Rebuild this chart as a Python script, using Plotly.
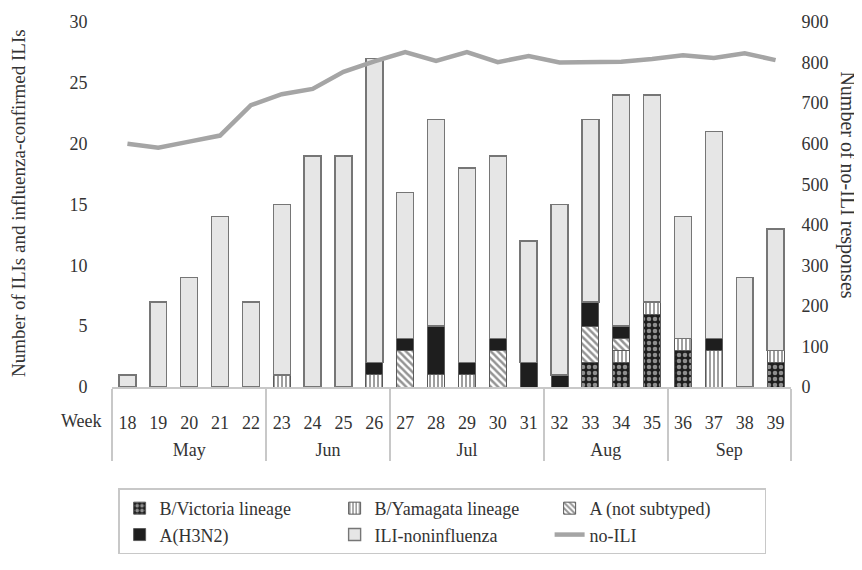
import plotly.graph_objects as go

weeks = ["18", "19", "20", "21", "22", "23", "24", "25", "26", "27", "28",
         "29", "30", "31", "32", "33", "34", "35", "36", "37", "38", "39"]
months = ["May"] * 5 + ["Jun"] * 4 + ["Jul"] * 5 + ["Aug"] * 4 + ["Sep"] * 4

b_victoria = [0, 0, 0, 0, 0, 0, 0, 0, 0, 0, 0, 0, 0, 0, 0, 2, 2, 6, 3, 0, 0, 2]
b_yamagata = [0, 0, 0, 0, 0, 1, 0, 0, 1, 0, 1, 1, 0, 0, 0, 0, 1, 1, 1, 3, 0, 1]
a_not_subtyped = [0, 0, 0, 0, 0, 0, 0, 0, 0, 3, 0, 0, 3, 0, 0, 3, 1, 0, 0, 0, 0, 0]
a_h3n2 = [0, 0, 0, 0, 0, 0, 0, 0, 1, 1, 4, 1, 1, 2, 1, 2, 1, 0, 0, 1, 0, 0]
ili_total = [1, 7, 9, 14, 7, 15, 19, 19, 27, 16, 22, 18, 19, 12, 15, 22, 24, 24, 14, 21, 9, 13]
no_ili = [600, 590, 605, 620, 695, 722, 735, 777, 803, 826, 804, 826, 801, 816,
          800, 801, 802, 809, 818, 811, 823, 806]

ili_noninfluenza = [t - v - y - a - h for t, v, y, a, h in
                    zip(ili_total, b_victoria, b_yamagata, a_not_subtyped, a_h3n2)]


def nz(values):
    return [v if v else None for v in values]


x = [["<br>" + m for m in months], weeks]
FAM = "Liberation Serif"
TXT = "#333333"


def f(size):
    return dict(family=FAM, size=size, color=TXT)


outline = dict(color="#5a5a5a", width=1)

fig = go.Figure()
fig.add_trace(go.Bar(
    x=x, y=nz(b_victoria), name="B/Victoria lineage",
    marker=dict(color="#1e1e1e", line=outline,
                pattern=dict(shape=".", bgcolor="#1e1e1e", fgcolor="#ffffff",
                             size=6, solidity=0.45))))
fig.add_trace(go.Bar(
    x=x, y=nz(b_yamagata), name="B/Yamagata lineage",
    marker=dict(color="#ffffff", line=outline,
                pattern=dict(shape="|", bgcolor="#ffffff", fgcolor="#2a2a2a",
                             size=4, solidity=0.45))))
fig.add_trace(go.Bar(
    x=x, y=nz(a_not_subtyped), name="A (not subtyped)",
    marker=dict(color="#ffffff", line=outline,
                pattern=dict(shape="\\", bgcolor="#ffffff", fgcolor="#2a2a2a",
                             size=5, solidity=0.5))))
fig.add_trace(go.Bar(
    x=x, y=nz(a_h3n2), name="A(H3N2)",
    marker=dict(color="#1e1e1e", line=outline)))
fig.add_trace(go.Bar(
    x=x, y=nz(ili_noninfluenza), name="ILI-noninfluenza",
    marker=dict(color="#e6e6e6", line=dict(color="#767676", width=1.4))))
fig.add_trace(go.Scatter(
    x=x, y=no_ili, name="no-ILI", mode="lines", yaxis="y2",
    line=dict(color="#a5a5a5", width=4.5)))

fig.update_layout(
    width=854, height=562,
    barmode="stack", bargap=0.45,
    plot_bgcolor="white", paper_bgcolor="white",
    font=f(18),
    margin=dict(l=104, r=71, t=14, b=183, autoexpand=False),
    xaxis=dict(type="multicategory", automargin=False, showline=True,
               linecolor="#c8c8c8", linewidth=1.5, showdividers=True,
               dividercolor="#c8c8c8", dividerwidth=1.5, ticks="",
               ticklabelstandoff=19, tickfont=f(18)),
    yaxis=dict(range=[0, 30], dtick=5, showgrid=False, zeroline=False,
               automargin=False, showline=False, ticks="outside", ticklen=20,
               tickcolor="rgba(0,0,0,0)", tickfont=f(18)),
    yaxis2=dict(range=[0, 900], dtick=100, overlaying="y", side="right",
                automargin=False, showgrid=False, zeroline=False, showline=False,
                ticks="outside", ticklen=6, tickcolor="rgba(0,0,0,0)",
                tickfont=f(18)),
    showlegend=True,
    legend=dict(orientation="h", x=0.009, y=-0.278, xanchor="left", yanchor="top",
                traceorder="normal", bordercolor="#c8c8c8", borderwidth=1.5,
                entrywidth=170, entrywidthmode="pixels", font=f(18)),
    annotations=[
        dict(text="Number of ILIs and influenza-confirmed ILIs", textangle=-90,
             xref="paper", yref="paper", x=-0.138, y=0.505, xanchor="center",
             yanchor="middle", showarrow=False, font=f(19)),
        dict(text="Number of no-ILI responses", textangle=90,
             xref="paper", yref="paper", x=1.084, y=0.555, xanchor="center",
             yanchor="middle", showarrow=False, font=f(20)),
        dict(text="Week", xref="paper", yref="paper", x=-0.012, y=-0.092,
             xanchor="right", yanchor="middle", showarrow=False, font=f(18)),
    ],
)

fig.write_html("out.html")
